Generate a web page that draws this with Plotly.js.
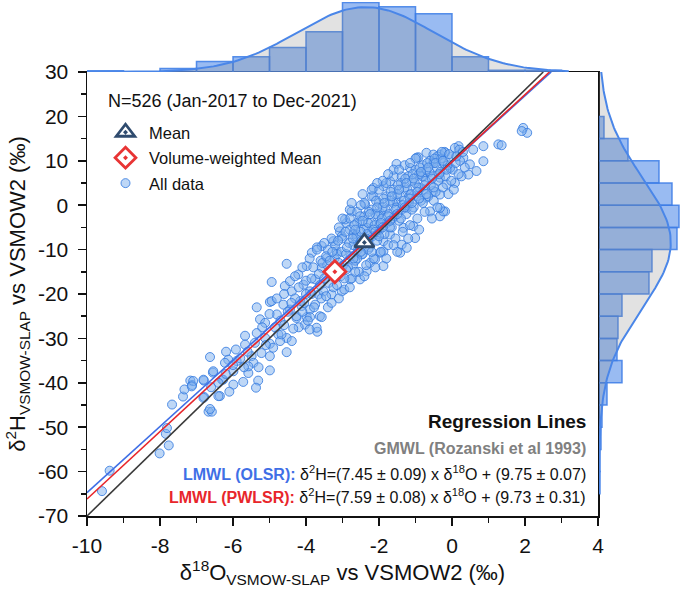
<!DOCTYPE html>
<html>
<head>
<meta charset="utf-8">
<script src="https://cdn.plot.ly/plotly-3.0.1.min.js"></script>
<style>html,body{margin:0;padding:0;background:#fff;}#chart{width:685px;height:595px;}</style>
</head>
<body>
<div id="chart"></div>
<script>
// ---- Data ----
// individual samples [d18O, d2H] (permil)
var samples = [
 [-9.59,-64.4],[-9.38,-59.8],[-8.01,-55.9],[-7.76,-54.1],[-7.84,-51.5],[-7.81,-50.2],[-7.67,-44.9],[-7.37,-43.1],[-7.33,-41.5],[-7.17,-39.5],[-7.12,-40.5],[-6.80,-39.5],[-6.79,-43.2],[-6.67,-46.5],[-6.58,-46.5],[-6.55,-37.7],[-6.36,-43.0],[-6.30,-39.3],
 [-4.99,-21.8],[-5.35,-23.0],[-3.62,-25.0],[-3.98,-25.2],[-5.26,-25.7],[-5.12,-26.5],[-4.03,-26.9],[-4.26,-25.4],[-3.69,-28.5],[-4.44,-23.5],[-5.67,-29.4],[-5.35,-28.8],[-5.12,-29.9],[-4.76,-29.1],[-4.53,-29.9],[-4.39,-30.6],[-4.71,-30.6],[-5.67,-31.4],[-4.99,-31.2],[-5.92,-32.5],[-6.19,-33.0],[-6.63,-34.2],[-6.13,-34.8],[-5.49,-34.0],[-4.53,-33.1],[-4.99,-34.0],[-6.22,-35.5],[-5.90,-35.1],[-5.44,-35.5],[-6.54,-37.4],[-5.99,-37.4],[-5.58,-37.8],[-4.99,-37.2],[-6.81,-39.3],[-6.27,-39.3],[-5.72,-39.8],[-5.31,-39.5],[-5.99,-40.4],[-5.37,-41.1],[-7.09,-39.6],[-7.13,-40.8],[-6.40,-43.0],[-6.81,-43.4],[-6.63,-45.9],[-5.58,-36.3],[-5.22,-33.3],[-4.90,-32.1],[-4.67,-29.1],[-3.66,-20.1],[-4.16,-21.6],[-3.89,-23.5],
 [-4.53,-13.2],[-3.84,-10.7],[-3.57,-9.2],[-3.07,-5.9],[-2.89,-4.0],[-4.94,-17.3],[-4.21,-15.6],[-4.58,-18.2],[-4.07,-17.9],[-4.39,-19.4],[-3.89,-19.4],[-3.52,-19.4],[-3.30,-20.1],[-4.94,-21.6],[-4.62,-22.4],[-4.12,-22.7],[-3.75,-22.4],[-4.80,-24.6],[-4.26,-25.0],[-3.89,-25.2],[-3.57,-25.2],[-3.71,-27.6],[-2.71,-13.4],[-2.52,-16.7],[-2.79,-16.7],[-3.02,-19.4],[-2.25,-13.0],[-1.97,-10.7],[-1.88,-8.1],[-2.06,-6.6],[-3.25,-8.1],[-3.43,-11.9],[-3.98,-13.7],[-4.44,-17.1],[-3.75,-16.7],[-3.57,-14.1],[-3.02,-14.1],[-2.34,-14.9],[-2.47,-11.1],[-2.61,-6.6],[-3.16,-10.4],[-3.70,-9.5],
 [-1.52,9.3],[-0.92,10.8],[-1.38,6.5],[-1.88,4.3],[-2.15,3.9],[-2.38,0.2],[-2.75,-1.4],[-2.93,-3.2],[-2.15,2.0],[-1.70,5.4],[-1.15,8.4],[-0.70,11.8],[-0.33,11.4],[-0.05,8.4],[0.08,5.0],[-0.19,-1.4],[-0.33,-2.5],[-1.06,-4.7],[-1.01,-7.4],[-1.38,-8.9],[-1.42,-10.7],[-1.88,-10.4],[-2.11,-12.2],[-1.88,-13.7],[-3.02,-7.0],[-2.71,-6.6],[-0.70,1.7],[-0.88,3.9],[-0.51,3.2],[-1.24,-0.6],[-1.61,-2.9],[-1.97,-4.3],[-2.34,-5.1],[-1.70,-6.6],[-0.97,10.7],[-0.51,9.9],[-1.15,2.4],[-1.52,0.9],[-1.97,-1.7],[-2.52,-3.6],[-1.33,-5.1],[-0.60,-1.4],[-0.79,6.5],[-0.33,6.2],[-1.24,-9.6],
 [1.95,17.4],[2.06,16.3],[1.91,16.7],[1.27,13.7],[1.36,13.5],[0.86,13.3],[0.58,12.5],[0.86,9.9],[0.67,7.7],[0.45,6.9],[0.18,13.3],[0.08,12.9],[-0.24,-1.4],[-0.33,-0.6],[0.26,6.5],[0.49,9.2],[0.31,10.7],[-0.05,8.4],[-0.33,2.4],[-0.15,4.7],[-0.51,11.4],[-0.19,11.8],
 [-4.0,-17],[-4.05,-22],[-3.95,-26],[-3.8,-14],[-3.85,-20],[-3.78,-23],[-3.6,-12.5],[-3.62,-18],[-3.58,-21],[-3.65,-15.5],[-3.4,-10],[-3.42,-13.5],[-3.38,-17.5],[-3.45,-20.5],[-3.2,-9],[-3.22,-12],[-3.18,-16],[-3.25,-18.5],[-3.15,-11],[-3.0,-7.5],[-3.02,-10.5],[-2.98,-13.5],[-3.05,-16],[-2.95,-19],[-2.8,-5.5],[-2.82,-8.5],[-2.78,-11.5],[-2.85,-14],[-2.75,-16.5],[-2.8,-3],[-2.6,-4],[-2.62,-7],[-2.58,-10],[-2.65,-12.5],[-2.55,-15],[-2.6,-1.5],[-2.4,-2.5],[-2.42,-5.5],[-2.38,-8.5],[-2.45,-11],[-2.35,-13.5],[-2.4,0.5],[-2.2,-1],[-2.22,-4],[-2.18,-7],[-2.25,-9.5],[-2.15,-12],[-2.2,2],[-2.0,0.5],[-2.02,-2.5],[-1.98,-5.5],[-2.05,-8],[-1.95,-10.5],[-2.0,3.5],[-1.8,2],[-1.82,-1],[-1.78,-4],[-1.85,-6.5],[-1.75,-9],[-1.8,5],[-1.6,3.5],[-1.62,0.5],[-1.58,-2.5],[-1.65,-5],[-1.55,-7.5],[-1.6,6.5],[-1.4,5],[-1.42,2],[-1.38,-1],[-1.45,-3.5],[-1.35,-6],[-1.2,6.5],[-1.22,3.5],[-1.18,0.5],[-1.25,-2],[-1.15,-4.5],[-1.0,8],[-1.02,5],[-0.98,2],[-1.05,-0.5],[-0.95,-3],[-0.8,9],[-0.82,6.5],[-0.78,3.5],[-0.85,1],[-0.75,-1.5],[-0.6,10],[-0.62,7.5],[-0.58,4.5],[-0.65,2],[-0.4,11],[-0.42,8.5],[-0.38,5.5],[-0.45,3],[-0.2,12],[-0.22,9.5],[-0.18,6.5],[-0.25,4],[0,11],[0.02,8],[-0.02,5.5],[0.2,12.5],[0.22,10],[0.18,7],
 [-2.7,-9],[-2.5,-6],[-2.3,-4],[-2.1,-2],[-1.9,-0.5],[-1.7,1],[-1.5,2.5],[-1.3,4],[-1.1,5.5],[-0.9,7],[-0.7,8],[-0.5,9.5],[-0.3,10.5],[-2.9,-11],[-3.1,-13],[-3.3,-15],[-3.5,-16.5],[-2.6,-12],[-2.3,-10],[-2.0,-7],[-1.7,-5],[-1.4,-3],[-1.1,-1],[-0.8,0.5],[-0.5,1],[-2.8,-1],[-2.5,0],[-2.2,3.5],[-1.9,5.5],[-1.6,8],[-1.3,9],[-1.0,10.5],[-3.1,-5],[-3.3,-7.5],[-3.5,-8.5],[-3.7,-10],[-3.9,-12],[-4.1,-14],[-4.3,-21],[-4.5,-24],[-4.7,-26],[-4.2,-27.5],[-3.9,-28],[-3.4,-23],[-3.1,-21],[-2.8,-18.5],[-2.4,-16],[-2.1,-14],[-1.8,-12],[-1.5,-10.5],
 [-3.55,-13],[-3.45,-11.5],[-3.35,-12.5],[-3.28,-10.5],[-3.12,-8],[-3.08,-14.5],[-2.92,-6],[-2.88,-9.5],[-2.72,-7.5],[-2.68,-4.5],[-2.52,-2.5],[-2.48,-8],[-2.32,-6.5],[-2.28,-1.5],[-2.12,-4.5],[-2.08,1],[-1.92,-3],[-1.88,1.5],[-1.72,-2],[-1.68,3],[-1.52,-0.5],[-1.48,4.5],[-1.32,1],[-1.28,6],[-1.12,2.5],[-1.08,7],[-0.92,4],[-0.88,8.5],[-0.72,5.5],[-0.68,9.5],[-0.52,6.5],[-0.48,10.5],[-0.32,7.5],[-0.28,12],[-0.12,9],[-0.08,11.5],[0.1,9.5],[0.12,11],[0.3,12],[0.35,8.5],
 [-2.55,-9],[-2.35,-7.5],[-2.15,-5.5],[-1.95,-4],[-1.75,-2.5],[-1.55,-1],[-1.35,0],[-1.15,1.5],[-0.95,3],[-0.75,4.5],[-0.55,6],[-0.35,7],[-0.15,8],
 [-2.65,-5.5],[-2.45,-3.5],[-2.25,-2],[-2.05,-0.5],[-1.85,0.5],[-1.65,2],[-1.45,3.5],[-1.25,5],[-1.05,6],[-0.85,7.5],[-0.65,8.5],[-0.45,9.5],[-0.25,10],
 [-2.9,-14.5],[-2.7,-12],[-2.5,-10.5],[-2.3,-8],[-2.1,-6],[-1.9,-5],[-1.7,-3.5],[-1.5,-2],[-1.3,-0.5],[-1.1,0.5],[-0.9,1.5],[-0.7,2.5],[-0.5,4],
 [-3.0,-3],[-2.75,0.5],[-2.45,2.5],[-2.05,5],[-1.75,7],[-1.45,8],[-1.15,9.5],
 [-4.6,-20],[-4.4,-22],[-4.2,-18.5],[-4.0,-20],[-3.85,-16.5],[-4.3,-16],[-4.8,-21],[-5.0,-24.5],[-5.2,-27.5],[-5.4,-31],[-5.6,-33],[-5.8,-34.5],[-6.0,-36],[-6.2,-38],[-6.4,-40],[-6.6,-41],[-5.1,-31.5],[-5.3,-36.5],[-5.7,-36.5],[-6.1,-42],[-4.85,-27.5],[-4.6,-27],[-4.35,-27.8],[-4.1,-24],
 [-3.3,-22],[-3.15,-18],[-2.95,-16.5],[-2.65,-15],[-2.2,-10.5],[-1.6,-9],[-1.2,-7.5],[-0.9,-5.5],[-0.55,-3],[-0.4,-0.5],[-0.1,2.5],[0.05,3.5]
];

// Mean and volume-weighted mean
var meanPoint = [-2.40, -8.4];
var vwMeanPoint = [-3.21, -15.0];

// Histogram of d18O (bin width 1)
var o18BinCenters = [-9.5,-8.5,-7.5,-6.5,-5.5,-4.5,-3.5,-2.5,-1.5,-0.5,0.5,1.5,2.5];
var o18Counts     = [2,0,6,18,26,42,69,119,112,100,26,3,3];
// Histogram of d2H (bin width 5)
var h2BinCenters = [17.5,12.5,7.5,2.5,-2.5,-7.5,-12.5,-17.5,-22.5,-27.5,-32.5,-37.5,-42.5,-47.5,-52.5,-57.5,-62.5];
var h2Counts     = [5,29,60,73,80,78,53,50,23,19,18,23,8,3,2,1,1];

// Regression lines: y = slope * x + intercept
var lineNames = ['GMWL','LMWL (OLSR)','LMWL (PWLSR)'];
var lineSlopes = [8, 7.45, 7.59];
var lineIntercepts = [10, 9.75, 9.73];
var lineColors = ['#3a3a3a','#3f6fe6','#e8262b'];

var xTicks = [-10,-8,-6,-4,-2,0,2,4];
var xTickText = ['-10','-8','-6','-4','-2','0','2','4'];
var yTicks = [30,20,10,0,-10,-20,-30,-40,-50,-60,-70];
var yTickText = ['30','20','10','0','-10','-20','-30','-40','-50','-60','-70'];

// ---- build ----
var FONT = 'Liberation Sans, Arial, sans-serif';
var xs = samples.map(function(p){return p[0];});
var ys = samples.map(function(p){return p[1];});

function normalFit(centers, counts, bw, lo, hi) {
  var n = 0, s = 0;
  for (var i=0;i<counts.length;i++){ n+=counts[i]; s+=counts[i]*centers[i]; }
  var m = s/n, v = 0;
  for (var i=0;i<counts.length;i++){ v += counts[i]*Math.pow(centers[i]-m,2); }
  var sd = Math.sqrt(v/n);
  var a=[], b=[];
  for (var k=0;k<=160;k++){
    var t = lo + (hi-lo)*k/160;
    a.push(t);
    b.push(n*bw/(sd*Math.sqrt(2*Math.PI))*Math.exp(-0.5*Math.pow((t-m)/sd,2)));
  }
  return {t:a, d:b};
}
var fx = normalFit(o18BinCenters, o18Counts, 1, -10, 3.2);
var fy = normalFit(h2BinCenters, h2Counts, 5, 30, -65);

var barFill = 'rgba(60,125,230,0.52)';
var barLine = 'rgba(60,125,230,0.85)';
var curveCol = '#4a86e8';

var traces = [];
// top histogram
traces.push({type:'bar', x:o18BinCenters, y:o18Counts, width:1, xaxis:'x', yaxis:'y3',
  marker:{color:barFill, line:{color:barLine, width:1.5}}, showlegend:false, hoverinfo:'skip'});
traces.push({type:'scatter', mode:'lines', x:fx.t, y:fx.d, xaxis:'x', yaxis:'y3', fill:'tozeroy',
  fillcolor:'rgba(140,140,140,0.25)', line:{color:curveCol, width:2}, showlegend:false, hoverinfo:'skip'});
// right histogram
traces.push({type:'bar', orientation:'h', y:h2BinCenters, x:h2Counts, width:5, xaxis:'x2', yaxis:'y',
  marker:{color:barFill, line:{color:barLine, width:1.5}}, showlegend:false, hoverinfo:'skip'});
traces.push({type:'scatter', mode:'lines', y:fy.t, x:fy.d, xaxis:'x2', yaxis:'y', fill:'tozerox',
  fillcolor:'rgba(140,140,140,0.25)', line:{color:curveCol, width:2}, showlegend:false, hoverinfo:'skip'});

// all data
traces.push({type:'scatter', mode:'markers', name:'All data', x:xs, y:ys, xaxis:'x', yaxis:'y',
  marker:{size:9, color:'rgba(125,175,238,0.5)', line:{color:'rgba(55,125,225,0.85)', width:1}},
  legendrank:3, legendgroup:'c'});
// regression lines
for (var i=0;i<lineNames.length;i++){
  var xEnd = (30 - lineIntercepts[i]) / lineSlopes[i];
  traces.push({type:'scatter', mode:'lines', name:lineNames[i], x:[-10, xEnd],
    y:[lineSlopes[i]*-10+lineIntercepts[i], 30], xaxis:'x', yaxis:'y',
    line:{color:lineColors[i], width:1.6}, showlegend:false});
}
traces.push({type:'scatter', mode:'markers', name:'Mean', x:[meanPoint[0]], y:[meanPoint[1]],
  marker:{symbol:'triangle-up-dot', size:17, color:'white', line:{color:'#2f4b6e', width:2.8}}, legendrank:1, legendgroup:'a'});
traces.push({type:'scatter', mode:'markers', name:'Volume-weighted Mean', x:[vwMeanPoint[0]], y:[vwMeanPoint[1]],
  marker:{symbol:'diamond-dot', size:17, color:'white', line:{color:'#e83434', width:2.8}}, legendrank:2, legendgroup:'b'});

var axFont = {family:FONT, size:21, color:'#111'};
var layout = {
  width:685, height:595,
  margin:{l:87, r:0, t:2, b:79},
  paper_bgcolor:'white', plot_bgcolor:'rgba(0,0,0,0)',
  showlegend:true, bargap:0,
  font:{family:FONT, color:'#111'},
  xaxis:{domain:[0, 511/598], range:[-10,4], anchor:'y', tickvals:xTicks, ticktext:xTickText,
    ticks:'outside', ticklen:8, tickwidth:1.5, tickcolor:'#111', minor:{dtick:1, tick0:-10, ticks:'outside', ticklen:5, tickwidth:1.5, tickcolor:'#111'},
    showline:true, linecolor:'#111', linewidth:1.5, mirror:true, showgrid:false, zeroline:false,
    tickfont:axFont, ticklabelstandoff:2,
    title:{text:'δ<sup>18</sup>O<sub>VSMOW-SLAP</sub> vs VSMOW2 (‰)', font:{family:FONT, size:22, color:'#111'}, standoff:9}},
  yaxis:{domain:[0, 444/514], range:[-70,30], anchor:'x', tickvals:yTicks, ticktext:yTickText,
    ticks:'outside', ticklen:8, tickwidth:1.5, tickcolor:'#111', minor:{dtick:5, tick0:-70, ticks:'outside', ticklen:5, tickwidth:1.5, tickcolor:'#111'},
    showline:true, linecolor:'#111', linewidth:1.5, mirror:true, showgrid:false, zeroline:false,
    tickfont:axFont, ticklabelstandoff:5,
    title:{text:'δ<sup>2</sup>H<sub>VSMOW-SLAP</sub> vs VSMOW2 (‰)', font:{family:FONT, size:22, color:'#111'}, standoff:6}},
  xaxis2:{domain:[512/598, 1], range:[0,86], anchor:'y', visible:false, fixedrange:true},
  yaxis3:{domain:[444/514, 1], range:[0,120], anchor:'x', visible:false, fixedrange:true},
  legend:{x:15/598, y:(516-115)/514, xanchor:'left', yanchor:'top', bgcolor:'rgba(0,0,0,0)',
    font:{family:FONT, size:16.5, color:'#111'}, itemwidth:37, tracegroupgap:1},
  annotations:[
    {xref:'x', yref:'y', x:-9.48, y:23.5, xanchor:'left', yanchor:'middle', showarrow:false,
     text:'N=526 (Jan-2017 to Dec-2021)', font:{family:FONT, size:18, color:'#111'}},
    {xref:'x', yref:'y', x:3.72, y:-48.8, xanchor:'right', yanchor:'middle', showarrow:false,
     text:'<b>Regression Lines</b>', font:{family:FONT, size:19, color:'#111'}},
    {xref:'x', yref:'y', x:3.72, y:-54.9, xanchor:'right', yanchor:'middle', showarrow:false,
     text:'<b>GMWL (Rozanski et al 1993)</b>', font:{family:FONT, size:16, color:'#808080'}},
    {xref:'x', yref:'y', x:3.72, y:-60.3, xanchor:'right', yanchor:'middle', showarrow:false,
     text:'<b><span style="color:#3f6fe6">LMWL (OLSR):</span></b> δ<sup>2</sup>H=(7.45 ± 0.09) x δ<sup>18</sup>O + (9.75 ± 0.07)', font:{family:FONT, size:16, color:'#111'}},
    {xref:'x', yref:'y', x:3.72, y:-65.5, xanchor:'right', yanchor:'middle', showarrow:false,
     text:'<b><span style="color:#e8262b">LMWL (PWLSR):</span></b> δ<sup>2</sup>H=(7.59 ± 0.08) x δ<sup>18</sup>O + (9.73 ± 0.31)', font:{family:FONT, size:16, color:'#111'}}
  ]
};
Plotly.newPlot('chart', traces, layout, {displayModeBar:false, staticPlot:true});
</script>
</body>
</html>
